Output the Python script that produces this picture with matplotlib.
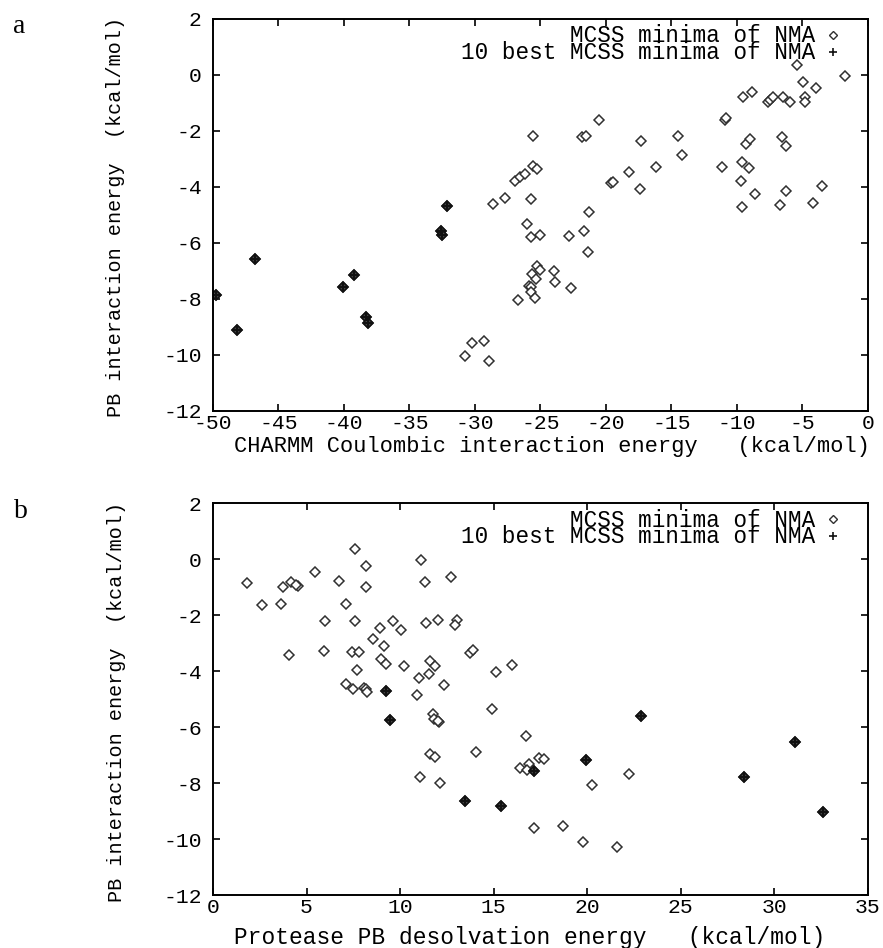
import matplotlib
matplotlib.use("Agg")
import matplotlib.pyplot as plt

plt.rcParams['font.family'] = ['Liberation Mono', 'DejaVu Sans Mono']
plt.rcParams['axes.unicode_minus'] = False

# ---- panel a: Coulombic vs PB interaction ----
a_x = [-25.55, -25.6, -25.3, -26.95, -26.6, -26.2, -25.7, -27.7, -28.6, -26.0,
       -25.7, -25.05, -25.3, -25.05, -25.65, -25.35, -25.9, -25.7, -25.75, -25.4,
       -26.7, -30.25, -29.3, -30.8, -28.9,
       -5.44, -1.78, -4.96, -4.0, -9.57, -8.83, -7.6, -7.45, -7.25, -6.46,
       -5.95, -4.8, -4.78, -10.94, -10.85, -20.5, -21.8, -21.5, -17.35, -14.53,
       -14.2, -9.34, -8.98, -6.56, -6.26, -18.24, -16.16, -11.15, -9.6, -9.06,
       -19.64, -19.47, -17.38, -9.7, -8.63, -6.26, -3.51, -9.6, -6.74, -4.2,
       -21.32, -21.7, -22.85, -21.37, -24.0, -23.9, -22.7]
a_y = [-2.17, -3.24, -3.35, -3.80, -3.65, -3.55, -4.44, -4.39, -4.61, -5.33,
       -5.80, -5.73, -6.83, -6.98, -7.10, -7.30, -7.52, -7.58, -7.76, -7.96,
       -8.02, -9.58, -9.50, -10.05, -10.23,
       0.36, -0.02, -0.25, -0.46, -0.78, -0.61, -0.97, -0.88, -0.80, -0.80,
       -0.98, -0.79, -0.97, -1.60, -1.55, -1.62, -2.20, -2.19, -2.37, -2.19,
       -2.86, -2.45, -2.29, -2.21, -2.53, -3.46, -3.29, -3.30, -3.10, -3.31,
       -3.87, -3.84, -4.06, -3.77, -4.24, -4.14, -3.97, -4.73, -4.63, -4.57,
       -4.89, -5.58, -5.76, -6.34, -7.0, -7.4, -7.6]
a_best_x = [-49.8, -48.2, -46.8, -40.1, -39.2, -38.3, -38.2, -32.6, -32.5, -32.1]
a_best_y = [-7.85, -9.1, -6.56, -7.58, -7.15, -8.64, -8.85, -5.58, -5.73, -4.68]

# ---- panel b: desolvation vs PB interaction ----
b_x = [1.80, 2.64, 3.62, 3.72, 4.15, 4.55, 4.45, 4.08, 5.45, 6.74,
       7.61, 8.18, 8.15, 7.09, 6.0, 7.6, 5.92, 7.43, 7.79, 7.72,
       7.12, 7.46, 8.09, 8.15, 8.24, 8.9, 8.53, 9.15, 9.62, 10.07,
       8.97, 9.24, 10.2, 11.1, 11.33, 12.73, 11.38, 12.0, 13.04, 12.95,
       13.76, 13.87, 11.58, 11.85, 11.53, 11.0, 12.32, 10.92, 15.13, 15.99,
       11.78, 11.83, 12.09, 12.0, 14.9, 11.58, 11.89, 14.05, 11.04, 12.14,
       16.73, 17.4, 17.7, 16.38, 16.9, 16.76, 17.18, 18.7, 19.75, 21.6,
       20.27, 22.24]
b_y = [-0.85, -1.65, -1.60, -0.99, -0.81, -0.97, -0.92, -3.44, -0.47, -0.79,
       0.35, -0.26, -1.0, -1.61, -2.21, -2.21, -3.28, -3.32, -3.31, -3.97,
       -4.45, -4.65, -4.61, -4.65, -4.76, -2.47, -2.84, -3.09, -2.22, -2.54,
       -3.58, -3.76, -3.83, -0.04, -0.81, -0.63, -2.30, -2.17, -2.18, -2.35,
       -3.34, -3.26, -3.66, -3.83, -4.12, -4.24, -4.50, -4.86, -4.05, -3.78,
       -5.55, -5.73, -5.81, -5.78, -5.37, -6.98, -7.06, -6.90, -7.79, -8.0,
       -6.31, -7.10, -7.15, -7.45, -7.33, -7.53, -9.61, -9.55, -10.1, -10.28,
       -8.08, -7.68]
b_best_x = [9.26, 9.46, 13.45, 15.41, 17.16, 19.91, 22.86, 28.4, 31.1, 32.6]
b_best_y = [-4.73, -5.76, -8.63, -8.83, -7.58, -7.18, -5.6, -7.8, -6.53, -9.05]

LEG1 = "MCSS minima of NMA"
LEG2 = "10 best MCSS minima of NMA"

fig = plt.figure(figsize=(8.83, 9.48), dpi=100)
ax_a = fig.add_axes([0.2412, 0.5665, 0.7418, 0.4135])
ax_b = fig.add_axes([0.2412, 0.0559, 0.7418, 0.4135])

EC = '#303030'


def draw_panel(ax, xs, ys, bx, by, xlim, xstep):
    # all minima as open diamonds, the 10 best get a '+' on top as well
    ax.plot(xs + bx, ys + by, linestyle='none', marker='D', ms=4.6,
            mfc='white', mec=EC, mew=1.1)
    ax.plot(bx, by, linestyle='none', marker='D', ms=4.6,
            mfc='#555555', mec='#111111', mew=1.2)
    ax.plot(bx, by, linestyle='none', marker='+', ms=6, mec='#111111', mew=1.6)
    ax.set_xlim(*xlim)
    ax.set_ylim(-12, 2)
    ax.set_xticks(range(xlim[0], xlim[1] + 1, xstep))
    ax.set_yticks(range(-12, 3, 2))
    ax.tick_params(direction='in', length=5, width=1.2, top=True, right=True,
                   labelsize=15.4)
    ax.tick_params(axis='x', pad=2)
    ax.tick_params(axis='y', pad=8)
    for s in ax.spines.values():
        s.set_linewidth(1.4)
    # key in the upper right corner (one text block, tight line spacing;
    # the anchor is the baseline of the last line)
    ax.text(0.919, 0.897, LEG1 + "\n" + LEG2, transform=ax.transAxes,
            ha='right', va='baseline', multialignment='right',
            linespacing=0.66, fontsize=16.3)
    ax.plot([0.947], [0.958], transform=ax.transAxes, marker='D', ms=4,
            mfc='white', mec=EC, mew=1.0, clip_on=False)
    ax.plot([0.947], [0.916], transform=ax.transAxes, marker='+', ms=6,
            mec='#111111', mew=1.2, clip_on=False)


draw_panel(ax_a, a_x, a_y, a_best_x, a_best_y, (-50, 0), 5)
draw_panel(ax_b, b_x, b_y, b_best_x, b_best_y, (0, 35), 5)

ylab = "PB interaction energy  (kcal/mol)"
fig.text(0.131, 0.771, ylab, rotation=90, ha='center', va='center', fontsize=14.5)
fig.text(0.132, 0.2595, ylab, rotation=90, ha='center', va='center', fontsize=14.5)

fig.text(0.625, 0.5227, "CHARMM Coulombic interaction energy   (kcal/mol)",
         ha='center', va='baseline', fontsize=15.8)
fig.text(0.6, 0.004, "Protease PB desolvation energy   (kcal/mol)",
         ha='center', va='baseline', fontsize=16.5)

fig.text(0.022, 0.965, "a", family=['Liberation Serif', 'DejaVu Serif'],
         fontsize=20, ha='center', va='baseline')
fig.text(0.024, 0.4535, "b", family=['Liberation Serif', 'DejaVu Serif'],
         fontsize=20, ha='center', va='baseline')

fig.savefig("out.png", dpi=100)
